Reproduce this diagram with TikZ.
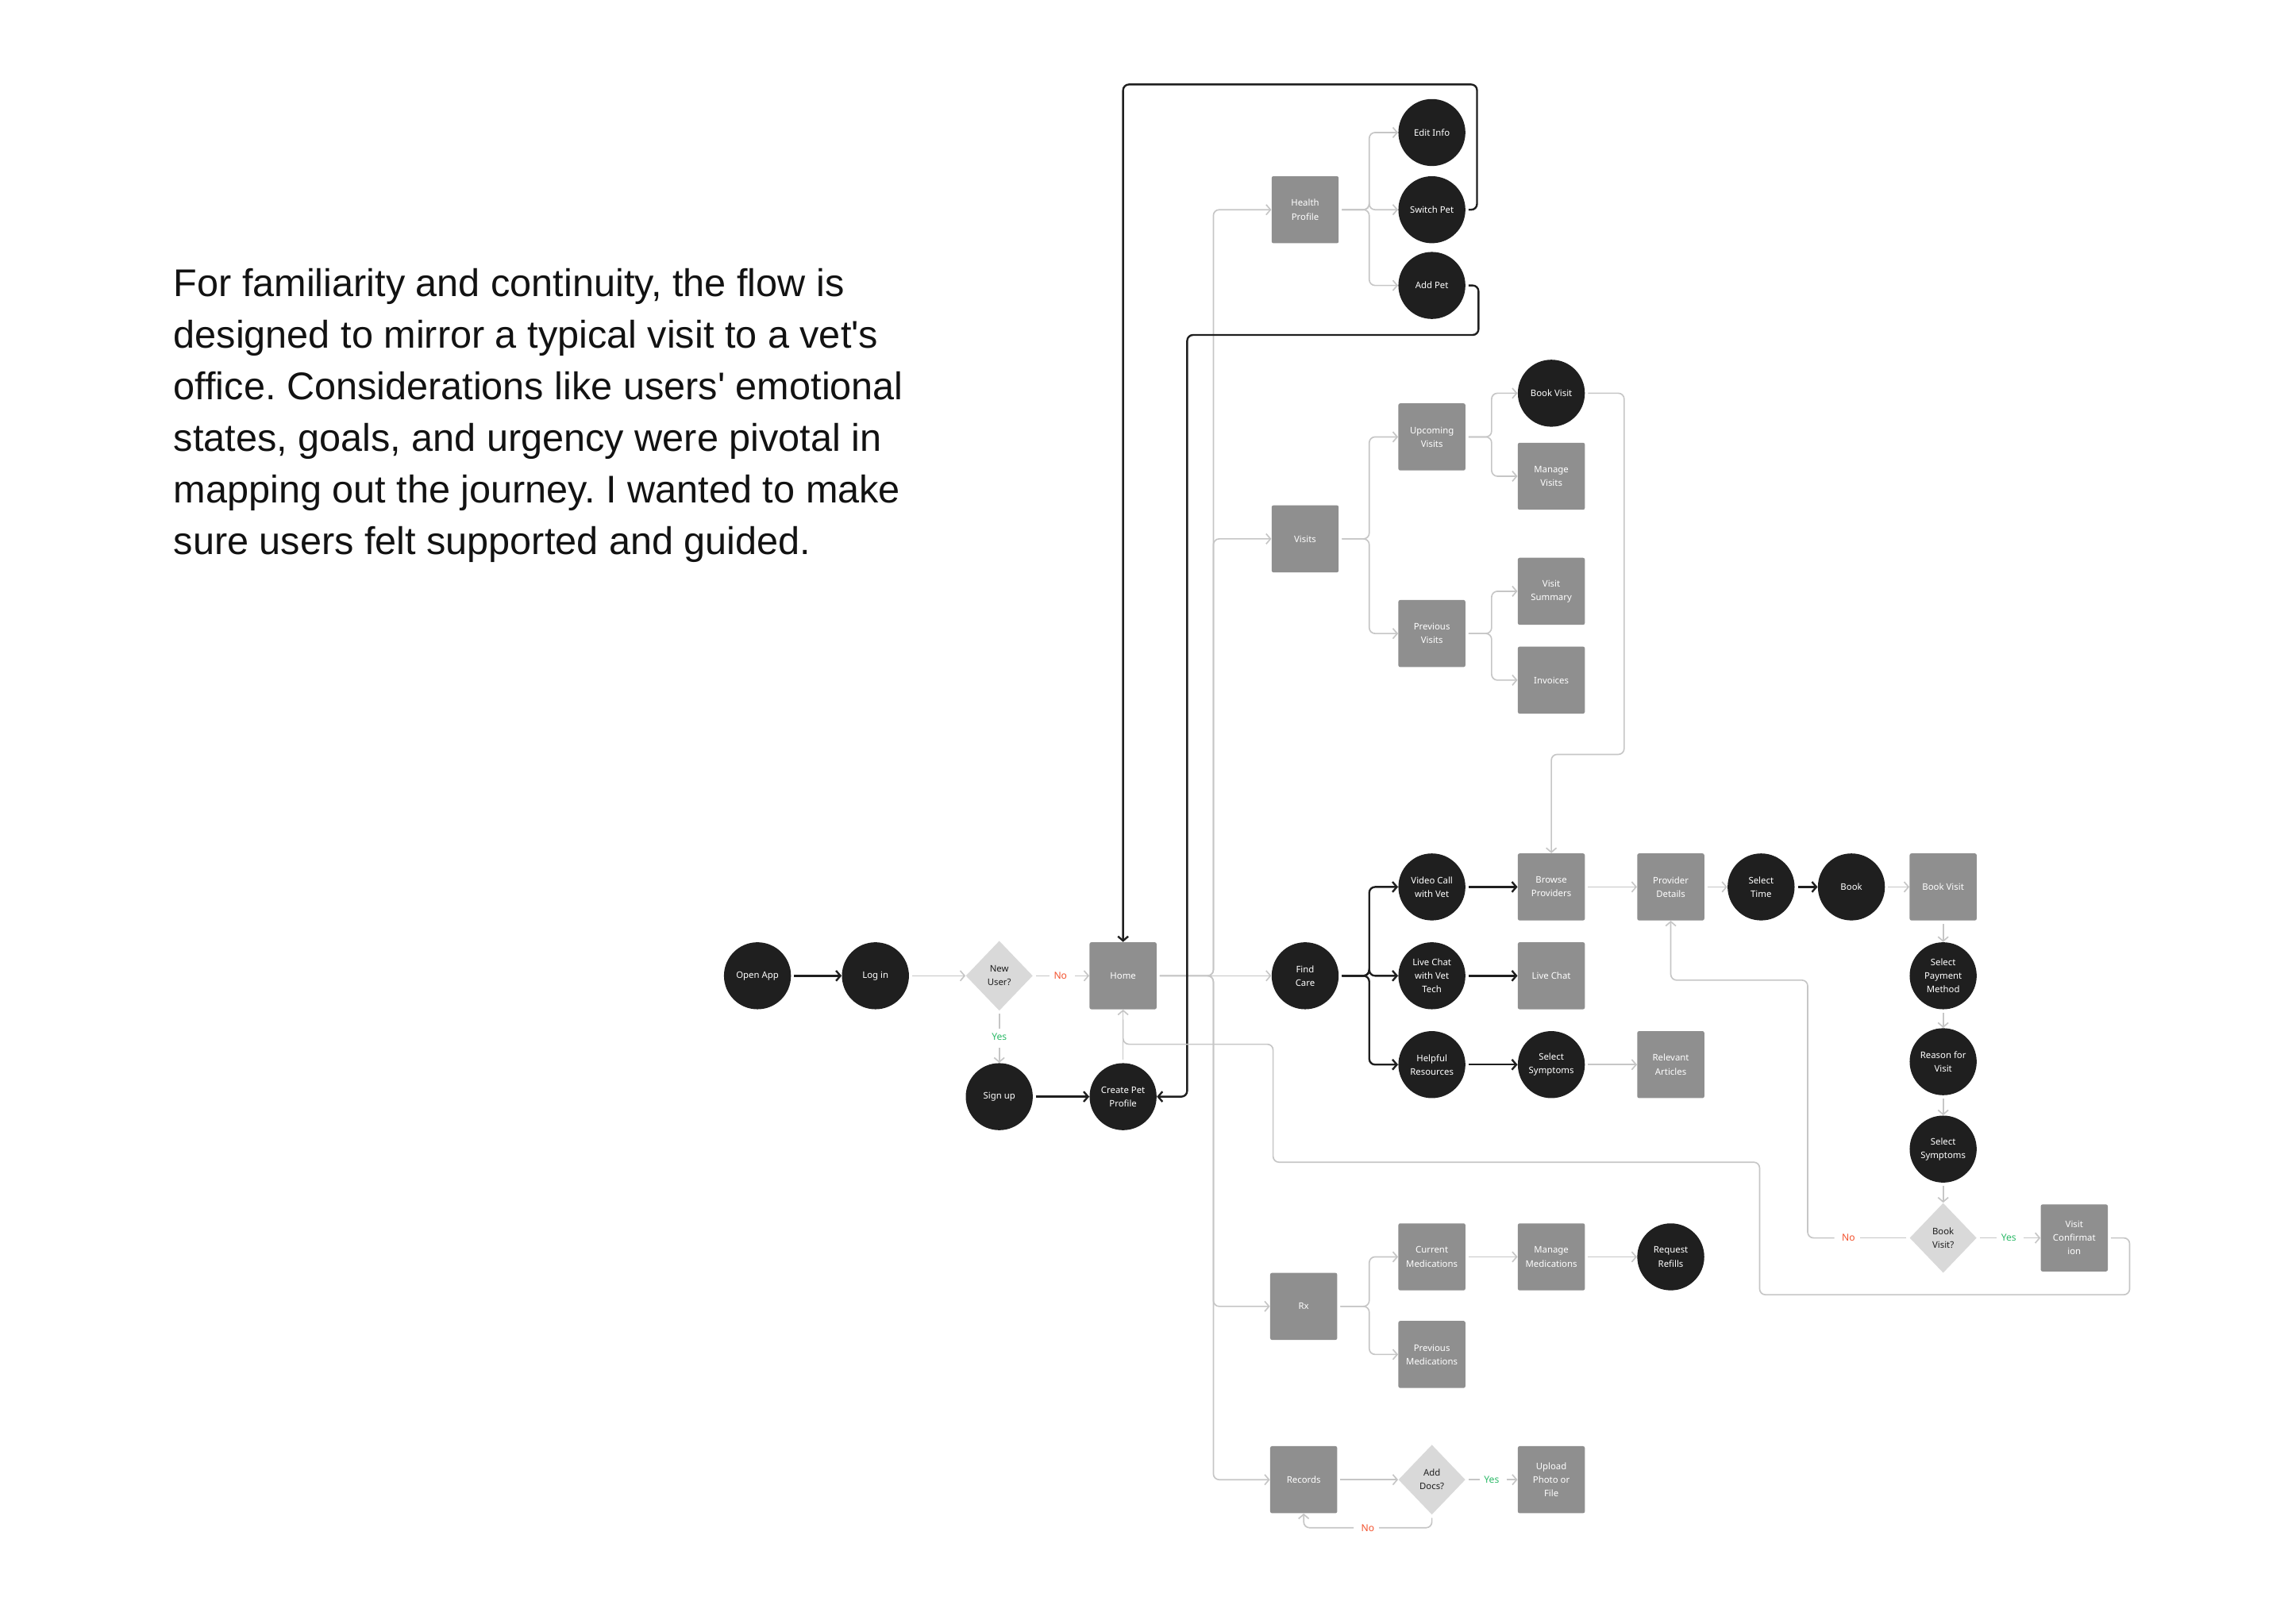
\documentclass[tikz,border=0pt]{standalone}
\usepackage{fontspec}
\setmainfont{Liberation Sans}
\newfontfamily\flowfont{Noto Sans}
\usetikzlibrary{arrows.meta, shapes.geometric}

\definecolor{boxgray}{HTML}{8F8F8F}
\definecolor{dotblack}{HTML}{1F1F1F}
\definecolor{diagray}{HTML}{D9D9D9}
\definecolor{linegray}{HTML}{C6C6C6}
\definecolor{noorange}{HTML}{F2512D}
\definecolor{yesgreen}{HTML}{2DB968}

\frenchspacing

\begin{document}
\begin{tikzpicture}[x=1pt, y=-1pt,
    lbl/.style={font=\flowfont\fontsize{6.2}{9.3}\selectfont, align=center, inner sep=0pt},
    screen/.style={lbl, rectangle, rounded corners=1.2pt, fill=boxgray, text=white, minimum size=46pt},
    action/.style={lbl, circle, fill=dotblack, text=white, minimum size=46pt},
    choice/.style={lbl, diamond, fill=diagray, text=dotblack, minimum width=46pt, minimum height=48pt},
    flow/.style={draw=linegray, line width=0.9pt, shorten <=2pt},
    walk/.style={draw=dotblack, line width=1.3pt, shorten <=2pt},
    arr/.style={-{Straight Barb[length=3pt,width=7pt]}},
    rc/.style={rounded corners=4pt},
    nolbl/.style={font=\flowfont\bfseries\fontsize{6.6}{7}\selectfont, text=noorange, inner sep=3pt},
    yeslbl/.style={font=\flowfont\bfseries\fontsize{6.6}{7}\selectfont, text=yesgreen, inner sep=3pt}]

    \useasboundingbox (0,0) rectangle (1568,1115);

    % Einleitungstext
    \node[anchor=north west, align=left, inner sep=0pt, text=black!93,
          font=\fontsize{26.5}{35.5}\selectfont] (intro) at (119,184)
        {For familiarity and continuity, the flow is\\
         designed to mirror a typical visit to a vet\textquotesingle s\\
         office. Considerations like users\textquotesingle{} emotional\\
         states, goals, and urgency were pivotal in\\
         mapping out the journey. I wanted to make\\
         sure users felt supported and guided.};

    % Einstieg
    \node[action] (openapp) at (520,670) {Open App};
    \node[action] (login) at (601,670) {Log in};
    \node[choice] (newuser) at (686,670) {New\\User?};
    \node[nolbl] (nouser) at (728,670) {No};
    \node[yeslbl] (yesuser) at (686,712) {Yes};
    \node[screen] (home) at (771,670) {Home};
    \node[action] (signup) at (686,753) {Sign up};
    \node[action] (createpet) at (771,753) {Create Pet\\Profile};

    % Health Profile
    \node[screen] (health) at (896,144) {Health\\Profile};
    \node[action] (editinfo) at (983,91) {Edit Info};
    \node[action] (switchpet) at (983,144) {Switch Pet};
    \node[action] (addpet) at (983,196) {Add Pet};

    % Visits
    \node[screen] (visits) at (896,370) {Visits};
    \node[screen] (upcoming) at (983,300) {Upcoming\\Visits};
    \node[screen] (previous) at (983,435) {Previous\\Visits};
    \node[action] (bookvisit) at (1065,270) {Book Visit};
    \node[screen] (managevisits) at (1065,327) {Manage\\Visits};
    \node[screen] (summary) at (1065,406) {Visit\\Summary};
    \node[screen] (invoices) at (1065,467) {Invoices};

    % Find Care
    \node[action] (findcare) at (896,670) {Find\\Care};
    \node[action] (videocall) at (983,609) {Video Call\\with Vet};
    \node[action] (chattech) at (983,670) {Live Chat\\with Vet\\Tech};
    \node[action] (resources) at (983,731) {Helpful\\Resources};
    \node[screen] (browse) at (1065,609) {Browse\\Providers};
    \node[screen] (livechat) at (1065,670) {Live Chat};
    \node[action] (symptomsA) at (1065,731) {Select\\Symptoms};
    \node[screen] (provider) at (1147,609) {Provider\\Details};
    \node[screen] (articles) at (1147,731) {Relevant\\Articles};
    \node[action] (seltime) at (1209,609) {Select\\Time};
    \node[action] (book) at (1271,609) {Book};
    \node[screen] (bookscreen) at (1334,609) {Book Visit};
    \node[action] (payment) at (1334,670) {Select\\Payment\\Method};
    \node[action] (reason) at (1334,729) {Reason for\\Visit};
    \node[action] (symptomsB) at (1334,789) {Select\\Symptoms};
    \node[choice] (bookq) at (1334,850) {Book\\Visit?};
    \node[nolbl] (nobook) at (1269,850) {No};
    \node[yeslbl] (yesbook) at (1379,850) {Yes};
    \node[screen] (confirm) at (1424,850) {Visit\\Confirmat\\ion};

    % Rx
    \node[screen] (rx) at (895,897) {Rx};
    \node[screen] (curmed) at (983,863) {Current\\Medications};
    \node[screen] (prevmed) at (983,930) {Previous\\Medications};
    \node[screen] (managemed) at (1065,863) {Manage\\Medications};
    \node[action] (refills) at (1147,863) {Request\\Refills};

    % Records
    \node[screen] (records) at (895,1016) {Records};
    \node[choice] (adddocs) at (983,1016) {Add\\Docs?};
    \node[yeslbl] (yesdocs) at (1024,1016) {Yes};
    \node[nolbl] (nodocs) at (939,1049) {No};
    \node[screen] (upload) at (1065,1016) {Upload\\Photo or\\File};

    % Verbindungen Einstieg
    \draw[walk, arr] (openapp) -- (login);
    \draw[flow, arr] (login) -- (newuser);
    \draw[flow] (newuser) -- (nouser);
    \draw[flow, arr] (nouser) -- (home);
    \draw[flow] (newuser) -- (yesuser);
    \draw[flow, arr] (yesuser) -- (signup);
    \draw[walk, arr] (signup) -- (createpet);
    \draw[flow, arr] (createpet) -- (home);

    % Hauptstamm ab Home
    \draw[flow, arr] (home) -- (findcare);
    \foreach \t in {health, visits, rx, records}
        \draw[flow, arr, rc] (home.east) -- (833,670) |- (\t.west);

    % Verzweigungen
    \foreach \t in {editinfo, switchpet, addpet}
        \draw[flow, arr, rc] (health.east) -- (940,144) |- (\t.west);
    \foreach \t in {upcoming, previous}
        \draw[flow, arr, rc] (visits.east) -- (940,370) |- (\t.west);
    \foreach \t in {bookvisit, managevisits}
        \draw[flow, arr, rc] (upcoming.east) -- (1024,300) |- (\t.west);
    \foreach \t in {summary, invoices}
        \draw[flow, arr, rc] (previous.east) -- (1024,435) |- (\t.west);
    \foreach \t in {videocall, chattech, resources}
        \draw[walk, arr, rc] (findcare.east) -- (940,670) |- (\t.west);
    \foreach \t in {curmed, prevmed}
        \draw[flow, arr, rc] (rx.east) -- (940,897) |- (\t.west);

    % Schleifen zurueck
    \draw[walk, arr, rc] (switchpet.east) -| (1014,58) -| (home.north);
    \draw[walk, arr, rc] (addpet.east) -| (1015,230) -| (815,753) -- (createpet.east);
    \draw[flow, arr, rc] (bookvisit.east) -| (1115,518) -| (browse.north);
    \draw[flow, rc] (confirm.east) -| (1462,889) -| (1208,798) -| (874,717) -| (771,700);

    % Find Care Ablauf
    \draw[walk, arr] (videocall) -- (browse);
    \draw[walk, arr] (chattech) -- (livechat);
    \draw[walk, arr] (resources) -- (symptomsA);
    \draw[flow, arr] (symptomsA) -- (articles);
    \draw[flow, arr] (browse) -- (provider);
    \draw[flow, arr] (provider) -- (seltime);
    \draw[walk, arr] (seltime) -- (book);
    \draw[flow, arr] (book) -- (bookscreen);
    \draw[flow, arr] (bookscreen) -- (payment);
    \draw[flow, arr] (payment) -- (reason);
    \draw[flow, arr] (reason) -- (symptomsB);
    \draw[flow, arr] (symptomsB) -- (bookq);
    \draw[flow] (bookq) -- (yesbook);
    \draw[flow, arr] (yesbook) -- (confirm);
    \draw[flow] (bookq) -- (nobook);
    \draw[flow, arr, rc] (nobook.west) -| (1241,673) -| (provider.south);

    % Rx und Records
    \draw[flow, arr] (curmed) -- (managemed);
    \draw[flow, arr] (managemed) -- (refills);
    \draw[flow, arr] (records) -- (adddocs);
    \draw[flow] (adddocs) -- (yesdocs);
    \draw[flow, arr] (yesdocs) -- (upload);
    \draw[flow, rc] (adddocs.south) |- (nodocs.east);
    \draw[flow, arr, rc] (nodocs.west) -| (records.south);

\end{tikzpicture}
\end{document}
